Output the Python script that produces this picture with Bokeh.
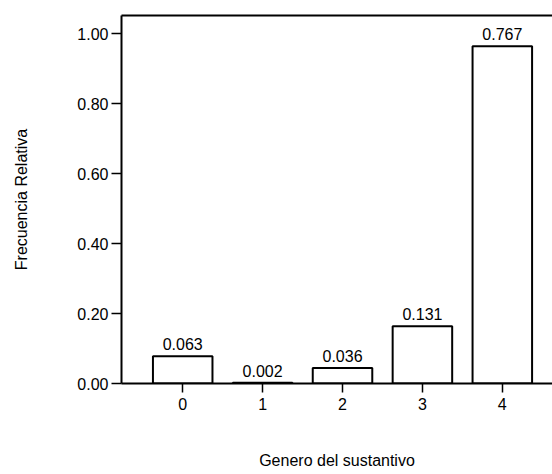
from bokeh.plotting import figure
from bokeh.models import ColumnDataSource, FixedTicker, LinearAxis, Range1d
from bokeh.core.properties import value
from bokeh.embed import file_html
from bokeh.resources import INLINE

# Data
categories = [0, 1, 2, 3, 4]
bar_heights = [0.078, 0.0025, 0.044, 0.164, 0.964]
bar_labels = ["0.063", "0.002", "0.036", "0.131", "0.767"]
y_ticks = [0.0, 0.2, 0.4, 0.6, 0.8, 1.0]
x_label = "Genero del sustantivo"
y_label = "Frecuencia Relativa"

FONT = "Liberation Sans"

src = ColumnDataSource(dict(x=categories, top=bar_heights, label=bar_labels))

p = figure(width=552, height=474, output_backend="svg", toolbar_location=None,
           x_range=Range1d(-0.766, 4.628), y_range=Range1d(0, 1.052),
           min_border_left=121, min_border_right=0, min_border_top=15, min_border_bottom=91)
p.outline_line_color = None
p.xgrid.visible = False
p.ygrid.visible = False
p.background_fill_color = "white"
p.border_fill_color = "white"

p.vbar(x="x", top="top", width=0.745, bottom=0, source=src,
       fill_color="white", line_color="black", line_width=2)

p.text(x="x", y="top", text="label", source=src, text_align="center",
       text_baseline="bottom", y_offset=-6, text_font=value(FONT),
       text_font_size="16px", text_color="black")

xa = p.xaxis[0]
xa.ticker = FixedTicker(ticks=categories)
xa.major_label_overrides = {c: str(c) for c in categories}
xa.minor_tick_line_color = None
xa.major_tick_in = 0
xa.major_tick_out = 9
xa.major_tick_line_width = 1.5
xa.axis_line_width = 2
xa.major_label_standoff = 5
xa.major_label_text_font = FONT
xa.major_label_text_font_size = "16px"
xa.major_label_text_color = "black"
xa.axis_label = x_label
xa.axis_label_text_font = FONT
xa.axis_label_text_font_size = "16px"
xa.axis_label_text_font_style = "normal"
xa.axis_label_text_color = "black"
xa.axis_label_standoff = 39

ya = p.yaxis[0]
ya.ticker = FixedTicker(ticks=y_ticks)
ya.major_label_overrides = {t: f"{t:.2f}" for t in y_ticks}
ya.minor_tick_line_color = None
ya.major_tick_in = 0
ya.major_tick_out = 10
ya.major_tick_line_width = 1.5
ya.axis_line_width = 2
ya.major_label_standoff = 3
ya.major_label_text_font = FONT
ya.major_label_text_font_size = "16px"
ya.major_label_text_color = "black"
ya.axis_label = y_label
ya.axis_label_text_font = FONT
ya.axis_label_text_font_size = "16px"
ya.axis_label_text_font_style = "normal"
ya.axis_label_text_color = "black"
ya.axis_label_standoff = 44

top_axis = LinearAxis(ticker=FixedTicker(ticks=[]), major_tick_line_color=None,
                      minor_tick_line_color=None, axis_line_width=2,
                      major_tick_out=0, major_tick_in=0, major_label_standoff=0)
p.add_layout(top_axis, "above")

open("out.html", "w").write(file_html(p, INLINE))
